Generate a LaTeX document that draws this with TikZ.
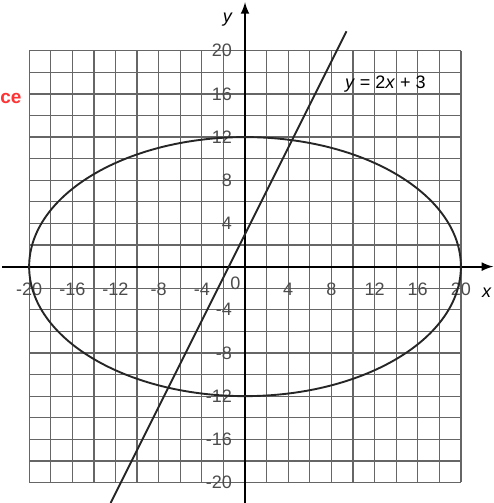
\documentclass[tikz,border=0pt]{standalone}
\usepackage{fontspec}
\setmainfont{Liberation Sans}
\usepackage{tikz}

\tikzset{
  gridline/.style={draw=black!60, line width=0.65pt},
  curve/.style={draw=black!85, line width=1pt},
  ticklabel/.style={text=black!70, inner sep=1pt}
}

\begin{document}
\begin{tikzpicture}[x=2mm, y=2mm, font=\fontsize{9.5}{11}\selectfont]
  \useasboundingbox (-22.7,-21.9) rectangle (23.0,24.7);

  % Define grid
  \foreach \g in {-20,-18,...,20} {
    \draw[gridline] (\g,-20) -- (\g,20);
    \draw[gridline] (-20,\g) -- (20,\g);
  }

  % Draw axes
  \draw[->, >=latex, line width=1.1pt] (-22.5,0) -- (23,0);
  \draw[->, >=latex, line width=1.1pt] (0,-22) -- (0,24.5);
  \node[inner sep=1pt] (xlab) at (22.4,-2.4) {\textit{x}};
  \node (ylab) at (-1.6,22.9) {\textit{y}};

  % Tick labels
  \foreach \v [count=\i] in {-20,-16,-12,-8,-4,4,8,12,16,20} {
    \node[ticklabel] (xt\i) at (\v,-2.1) {\v};
    \node[ticklabel, anchor=east] (yt\i) at (-1,\v) {\v};
  }
  \node[ticklabel] (orig) at (-0.9,-1.5) {0};

  % Ellipse and line
  \draw[curve] (0,0) ellipse [x radius=20, y radius=12];
  \draw[curve] (-12.45,-21.9) -- (9.4,21.8);
  \node (eqn) at (13,16.9) {\textit{y} = 2\textit{x} + 3};

  % Stray mark at the margin
  \node[text=red!80, anchor=east, font=\bfseries] (mark) at (-20.1,15.6) {ce};
\end{tikzpicture}
\end{document}
